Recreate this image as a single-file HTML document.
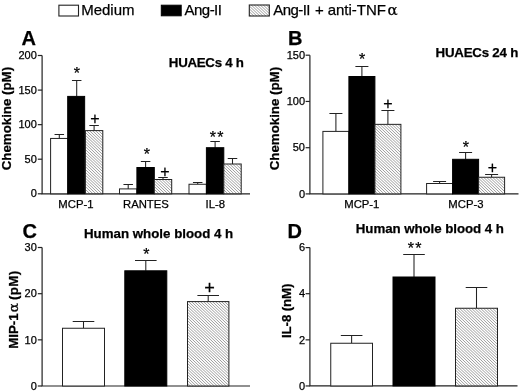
<!DOCTYPE html>
<html><head><meta charset="utf-8"><title>Figure</title>
<style>html,body{margin:0;padding:0;background:#fff}svg{display:block}text{font-family:'Liberation Sans', Arial, sans-serif;fill:#000;stroke:#000;stroke-width:0.25px}</style>
</head><body>
<svg width="520" height="392" viewBox="0 0 520 392">
<rect width="520" height="392" fill="#fff"/>
<rect x="58.9" y="5.2" width="19.6" height="10.8" fill="#fff" stroke="#222" stroke-width="1.1"/>
<rect x="161.3" y="5.2" width="19.9" height="10.6" fill="#000" stroke="#000"/>
<clipPath id="c1"><rect x="249.30" y="5.00" width="20.00" height="11.00"/></clipPath>
<rect x="249.30" y="5.00" width="20.00" height="11.00" fill="#fff"/>
<path clip-path="url(#c1)" d="M248.30 -17.77L270.30 3.14M248.30 -14.92L270.30 5.99M248.30 -12.07L270.30 8.84M248.30 -9.22L270.30 11.69M248.30 -6.37L270.30 14.54M248.30 -3.52L270.30 17.39M248.30 -0.67L270.30 20.24M248.30 2.18L270.30 23.09M248.30 5.03L270.30 25.94M248.30 7.88L270.30 28.79M248.30 10.73L270.30 31.64M248.30 13.58L270.30 34.49" stroke="#888" stroke-width="0.82" fill="none"/>
<rect x="249.30" y="5.00" width="20.00" height="11.00" fill="none" stroke="#222" stroke-width="1.1"/>
<text x="81.20" y="15.30" font-size="15" text-anchor="start">Medium</text>
<text x="184.6" y="15.3" font-size="15" textLength="37.3" lengthAdjust="spacing">Ang-II</text>
<text y="15.3" font-size="15" style="white-space:pre"><tspan x="273.2" textLength="37.3" lengthAdjust="spacing">Ang-II</tspan><tspan x="310.95"> + </tspan><tspan x="327.7">anti-TNF</tspan><tspan x="387.6" style="font-family:'DejaVu Serif',serif">α</tspan></text>
<text x="21.40" y="44.90" font-size="20" font-weight="bold" text-anchor="start">A</text>
<text x="287.90" y="44.90" font-size="20" font-weight="bold" text-anchor="start">B</text>
<text x="22.40" y="238.00" font-size="20" font-weight="bold" text-anchor="start">C</text>
<text x="287.40" y="238.00" font-size="20" font-weight="bold" text-anchor="start">D</text>
<text x="168.80" y="67.30" font-size="13.3" font-weight="bold" textLength="75.1" lengthAdjust="spacing" text-anchor="start">HUAECs 4 h</text>
<text x="435.60" y="56.60" font-size="13.3" font-weight="bold" textLength="82.7" lengthAdjust="spacing" text-anchor="start">HUAECs 24 h</text>
<text x="84.00" y="237.90" font-size="13.3" font-weight="bold" text-anchor="start">Human whole blood 4 h</text>
<text x="355.80" y="233.40" font-size="13.3" font-weight="bold" textLength="148.0" lengthAdjust="spacing" text-anchor="start">Human whole blood 4 h</text>
<text x="10.70" y="118.60" font-size="13.3" font-weight="bold" text-anchor="middle" transform="rotate(-90 10.70 118.60)">Chemokine (pM)</text>
<text x="279.40" y="118.60" font-size="13.3" font-weight="bold" text-anchor="middle" transform="rotate(-90 279.40 118.60)">Chemokine (pM)</text>
<text y="348.8" font-size="13.3" font-weight="bold" transform="rotate(-90 17.6 348.8)" style="white-space:pre"><tspan x="17.6">MIP-1</tspan><tspan x="54.1" font-size="13.5" font-weight="normal" stroke-width="0.35" style="font-family:'DejaVu Serif',serif">α</tspan><tspan x="62.5" textLength="33.0" lengthAdjust="spacing"> (pM)</tspan></text>
<text x="291.40" y="310.80" font-size="13.3" font-weight="bold" textLength="54.3" lengthAdjust="spacing" text-anchor="middle" transform="rotate(-90 291.40 310.80)">IL-8 (nM)</text>
<path d="M42.10 55.50V193.80H250.00" stroke="#222" stroke-width="1.2" fill="none"/>
<path d="M37.80 193.80H42.10" stroke="#222" stroke-width="1.2"/>
<text x="36.80" y="197.45" font-size="11" text-anchor="end">0</text>
<path d="M37.80 159.20H42.10" stroke="#222" stroke-width="1.2"/>
<text x="36.80" y="162.85" font-size="11" text-anchor="end">50</text>
<path d="M37.80 124.65H42.10" stroke="#222" stroke-width="1.2"/>
<text x="36.80" y="128.30" font-size="11" text-anchor="end">100</text>
<path d="M37.80 90.10H42.10" stroke="#222" stroke-width="1.2"/>
<text x="36.80" y="93.75" font-size="11" text-anchor="end">150</text>
<path d="M37.80 55.50H42.10" stroke="#222" stroke-width="1.2"/>
<text x="36.80" y="59.15" font-size="11" text-anchor="end">200</text>
<path d="M59.30 138.45V134.50M54.55 134.50H64.05" stroke="#222" stroke-width="1.05" fill="none"/>
<rect x="50.60" y="138.45" width="17.40" height="55.35" fill="#fff" stroke="#222" stroke-width="1.0"/>
<path d="M76.70 96.40V80.50M71.95 80.50H81.45" stroke="#222" stroke-width="1.05" fill="none"/>
<rect x="67.70" y="96.40" width="16.95" height="97.40" fill="#000" stroke="#000" stroke-width="1.0"/>
<path d="M94.10 130.60V125.50M89.35 125.50H98.85" stroke="#222" stroke-width="1.05" fill="none"/>
<clipPath id="c2"><rect x="85.40" y="130.60" width="17.40" height="63.20"/></clipPath>
<rect x="85.40" y="130.60" width="17.40" height="63.20" fill="#fff"/>
<path clip-path="url(#c2)" d="M84.40 111.53L103.80 129.96M84.40 114.38L103.80 132.81M84.40 117.23L103.80 135.66M84.40 120.08L103.80 138.51M84.40 122.93L103.80 141.36M84.40 125.78L103.80 144.21M84.40 128.63L103.80 147.06M84.40 131.48L103.80 149.91M84.40 134.33L103.80 152.76M84.40 137.18L103.80 155.61M84.40 140.03L103.80 158.46M84.40 142.88L103.80 161.31M84.40 145.73L103.80 164.16M84.40 148.58L103.80 167.01M84.40 151.43L103.80 169.86M84.40 154.28L103.80 172.71M84.40 157.13L103.80 175.56M84.40 159.98L103.80 178.41M84.40 162.83L103.80 181.26M84.40 165.68L103.80 184.11M84.40 168.53L103.80 186.96M84.40 171.38L103.80 189.81M84.40 174.23L103.80 192.66M84.40 177.08L103.80 195.51M84.40 179.93L103.80 198.36M84.40 182.78L103.80 201.21M84.40 185.63L103.80 204.06M84.40 188.48L103.80 206.91M84.40 191.33L103.80 209.76" stroke="#888" stroke-width="0.82" fill="none"/>
<rect x="85.40" y="130.60" width="17.40" height="63.20" fill="none" stroke="#222" stroke-width="1.0"/>
<path d="M128.20 188.90V184.50M123.45 184.50H132.95" stroke="#222" stroke-width="1.05" fill="none"/>
<rect x="119.50" y="188.90" width="17.40" height="4.90" fill="#fff" stroke="#222" stroke-width="1.0"/>
<path d="M145.60 167.50V161.50M140.85 161.50H150.35" stroke="#222" stroke-width="1.05" fill="none"/>
<rect x="136.90" y="167.50" width="17.40" height="26.30" fill="#000" stroke="#000" stroke-width="1.0"/>
<path d="M163.00 179.50V177.50M158.25 177.50H167.75" stroke="#222" stroke-width="1.05" fill="none"/>
<clipPath id="c3"><rect x="154.30" y="179.50" width="17.40" height="14.30"/></clipPath>
<rect x="154.30" y="179.50" width="17.40" height="14.30" fill="#fff"/>
<path clip-path="url(#c3)" d="M153.30 159.88L172.70 178.31M153.30 162.73L172.70 181.16M153.30 165.58L172.70 184.01M153.30 168.44L172.70 186.87M153.30 171.28L172.70 189.72M153.30 174.13L172.70 192.56M153.30 176.98L172.70 195.41M153.30 179.83L172.70 198.26M153.30 182.69L172.70 201.12M153.30 185.53L172.70 203.97M153.30 188.38L172.70 206.81M153.30 191.23L172.70 209.66" stroke="#888" stroke-width="0.82" fill="none"/>
<rect x="154.30" y="179.50" width="17.40" height="14.30" fill="none" stroke="#222" stroke-width="1.0"/>
<path d="M197.70 184.25V182.50M192.95 182.50H202.45" stroke="#222" stroke-width="1.05" fill="none"/>
<rect x="189.00" y="184.25" width="17.40" height="9.55" fill="#fff" stroke="#222" stroke-width="1.0"/>
<path d="M215.10 147.70V141.50M210.35 141.50H219.85" stroke="#222" stroke-width="1.05" fill="none"/>
<rect x="206.40" y="147.70" width="17.40" height="46.10" fill="#000" stroke="#000" stroke-width="1.0"/>
<path d="M232.50 164.00V158.50M227.75 158.50H237.25" stroke="#222" stroke-width="1.05" fill="none"/>
<clipPath id="c4"><rect x="223.80" y="164.00" width="17.40" height="29.80"/></clipPath>
<rect x="223.80" y="164.00" width="17.40" height="29.80" fill="#fff"/>
<path clip-path="url(#c4)" d="M222.80 143.26L242.20 161.69M222.80 146.11L242.20 164.54M222.80 148.96L242.20 167.39M222.80 151.81L242.20 170.24M222.80 154.66L242.20 173.09M222.80 157.51L242.20 175.94M222.80 160.36L242.20 178.79M222.80 163.21L242.20 181.64M222.80 166.06L242.20 184.49M222.80 168.91L242.20 187.34M222.80 171.76L242.20 190.19M222.80 174.61L242.20 193.04M222.80 177.46L242.20 195.89M222.80 180.31L242.20 198.74M222.80 183.16L242.20 201.59M222.80 186.01L242.20 204.44M222.80 188.86L242.20 207.29M222.80 191.71L242.20 210.14" stroke="#888" stroke-width="0.82" fill="none"/>
<rect x="223.80" y="164.00" width="17.40" height="29.80" fill="none" stroke="#222" stroke-width="1.0"/>
<text x="76.80" y="78.94" font-size="16" text-anchor="middle" stroke="#000" stroke-width="0.3">*</text>
<text x="94.90" y="124.42" font-size="16.0" text-anchor="middle" stroke-width="0.15">+</text>
<text x="146.75" y="160.29" font-size="16" text-anchor="middle" stroke="#000" stroke-width="0.3">*</text>
<text x="165.00" y="177.37" font-size="16.0" text-anchor="middle" stroke-width="0.15">+</text>
<text x="217.14" y="143.34" font-size="16" text-anchor="middle" letter-spacing="1.28" stroke="#000" stroke-width="0.3">**</text>
<text x="75.90" y="208.00" font-size="11.3" text-anchor="middle">MCP-1</text>
<text x="145.90" y="208.00" font-size="11.3" text-anchor="middle">RANTES</text>
<text x="215.30" y="208.00" font-size="11.3" text-anchor="middle">IL-8</text>
<path d="M309.90 55.20V193.90H518.50" stroke="#222" stroke-width="1.2" fill="none"/>
<path d="M305.60 193.90H309.90" stroke="#222" stroke-width="1.2"/>
<text x="305.00" y="197.55" font-size="11" text-anchor="end">0</text>
<path d="M305.60 147.70H309.90" stroke="#222" stroke-width="1.2"/>
<text x="305.00" y="151.35" font-size="11" text-anchor="end">50</text>
<path d="M305.60 101.45H309.90" stroke="#222" stroke-width="1.2"/>
<text x="305.00" y="105.10" font-size="11" text-anchor="end">100</text>
<path d="M305.60 55.20H309.90" stroke="#222" stroke-width="1.2"/>
<text x="305.00" y="58.85" font-size="11" text-anchor="end">150</text>
<path d="M335.90 131.40V113.50M329.40 113.50H342.40" stroke="#222" stroke-width="1.05" fill="none"/>
<rect x="322.90" y="131.40" width="26.00" height="62.50" fill="#fff" stroke="#222" stroke-width="1.0"/>
<path d="M361.90 76.50V66.50M355.40 66.50H368.40" stroke="#222" stroke-width="1.05" fill="none"/>
<rect x="348.90" y="76.50" width="26.00" height="117.40" fill="#000" stroke="#000" stroke-width="1.0"/>
<path d="M387.90 124.35V110.50M381.40 110.50H394.40" stroke="#222" stroke-width="1.05" fill="none"/>
<clipPath id="c5"><rect x="374.90" y="124.35" width="26.00" height="69.55"/></clipPath>
<rect x="374.90" y="124.35" width="26.00" height="69.55" fill="#fff"/>
<path clip-path="url(#c5)" d="M373.90 95.85L401.90 122.45M373.90 98.70L401.90 125.30M373.90 101.55L401.90 128.15M373.90 104.40L401.90 131.00M373.90 107.25L401.90 133.85M373.90 110.10L401.90 136.70M373.90 112.95L401.90 139.55M373.90 115.80L401.90 142.40M373.90 118.65L401.90 145.25M373.90 121.50L401.90 148.10M373.90 124.35L401.90 150.95M373.90 127.20L401.90 153.80M373.90 130.05L401.90 156.65M373.90 132.90L401.90 159.50M373.90 135.75L401.90 162.35M373.90 138.60L401.90 165.20M373.90 141.45L401.90 168.05M373.90 144.30L401.90 170.90M373.90 147.15L401.90 173.75M373.90 150.00L401.90 176.60M373.90 152.85L401.90 179.45M373.90 155.70L401.90 182.30M373.90 158.55L401.90 185.15M373.90 161.40L401.90 188.00M373.90 164.25L401.90 190.85M373.90 167.10L401.90 193.70M373.90 169.95L401.90 196.55M373.90 172.80L401.90 199.40M373.90 175.65L401.90 202.25M373.90 178.50L401.90 205.10M373.90 181.35L401.90 207.95M373.90 184.20L401.90 210.80M373.90 187.05L401.90 213.65M373.90 189.90L401.90 216.50M373.90 192.75L401.90 219.35" stroke="#888" stroke-width="0.82" fill="none"/>
<rect x="374.90" y="124.35" width="26.00" height="69.55" fill="none" stroke="#222" stroke-width="1.0"/>
<path d="M439.60 183.50V181.50M433.10 181.50H446.10" stroke="#222" stroke-width="1.05" fill="none"/>
<rect x="426.60" y="183.50" width="26.00" height="10.40" fill="#fff" stroke="#222" stroke-width="1.0"/>
<path d="M465.60 159.30V152.50M459.10 152.50H472.10" stroke="#222" stroke-width="1.05" fill="none"/>
<rect x="452.60" y="159.30" width="26.00" height="34.60" fill="#000" stroke="#000" stroke-width="1.0"/>
<path d="M491.60 177.25V174.50M485.10 174.50H498.10" stroke="#222" stroke-width="1.05" fill="none"/>
<clipPath id="c6"><rect x="478.60" y="177.25" width="26.00" height="16.65"/></clipPath>
<rect x="478.60" y="177.25" width="26.00" height="16.65" fill="#fff"/>
<path clip-path="url(#c6)" d="M477.60 148.77L505.60 175.37M477.60 151.62L505.60 178.22M477.60 154.47L505.60 181.07M477.60 157.32L505.60 183.92M477.60 160.17L505.60 186.77M477.60 163.02L505.60 189.62M477.60 165.87L505.60 192.47M477.60 168.72L505.60 195.32M477.60 171.57L505.60 198.17M477.60 174.42L505.60 201.02M477.60 177.27L505.60 203.87M477.60 180.12L505.60 206.72M477.60 182.97L505.60 209.57M477.60 185.82L505.60 212.42M477.60 188.67L505.60 215.27M477.60 191.52L505.60 218.12" stroke="#888" stroke-width="0.82" fill="none"/>
<rect x="478.60" y="177.25" width="26.00" height="16.65" fill="none" stroke="#222" stroke-width="1.0"/>
<text x="362.00" y="65.04" font-size="16" text-anchor="middle" stroke="#000" stroke-width="0.3">*</text>
<text x="388.00" y="109.22" font-size="16.0" text-anchor="middle" stroke-width="0.15">+</text>
<text x="465.75" y="152.54" font-size="16" text-anchor="middle" stroke="#000" stroke-width="0.3">*</text>
<text x="492.50" y="172.62" font-size="16.0" text-anchor="middle" stroke-width="0.15">+</text>
<text x="361.80" y="208.00" font-size="11.3" text-anchor="middle">MCP-1</text>
<text x="465.90" y="208.00" font-size="11.3" text-anchor="middle">MCP-3</text>
<path d="M42.10 247.50V386.00H250.00" stroke="#222" stroke-width="1.2" fill="none"/>
<path d="M37.80 386.00H42.10" stroke="#222" stroke-width="1.2"/>
<text x="36.80" y="389.65" font-size="11" text-anchor="end">0</text>
<path d="M37.80 339.85H42.10" stroke="#222" stroke-width="1.2"/>
<text x="36.80" y="343.50" font-size="11" text-anchor="end">10</text>
<path d="M37.80 293.70H42.10" stroke="#222" stroke-width="1.2"/>
<text x="36.80" y="297.35" font-size="11" text-anchor="end">20</text>
<path d="M37.80 247.50H42.10" stroke="#222" stroke-width="1.2"/>
<text x="36.80" y="251.15" font-size="11" text-anchor="end">30</text>
<path d="M83.50 328.25V321.50M72.70 321.50H94.30" stroke="#222" stroke-width="1.05" fill="none"/>
<rect x="62.50" y="328.25" width="42.00" height="57.75" fill="#fff" stroke="#222" stroke-width="1.0"/>
<path d="M145.80 270.80V260.50M135.00 260.50H156.60" stroke="#222" stroke-width="1.05" fill="none"/>
<rect x="124.80" y="270.80" width="42.00" height="115.20" fill="#000" stroke="#000" stroke-width="1.0"/>
<path d="M208.20 301.60V295.50M197.40 295.50H219.00" stroke="#222" stroke-width="1.05" fill="none"/>
<clipPath id="c7"><rect x="187.50" y="301.60" width="41.40" height="84.40"/></clipPath>
<rect x="187.50" y="301.60" width="41.40" height="84.40" fill="#fff"/>
<path clip-path="url(#c7)" d="M186.50 259.82L229.90 301.06M186.50 262.67L229.90 303.90M186.50 265.52L229.90 306.75M186.50 268.38L229.90 309.61M186.50 271.22L229.90 312.45M186.50 274.07L229.90 315.31M186.50 276.92L229.90 318.15M186.50 279.77L229.90 321.00M186.50 282.62L229.90 323.86M186.50 285.47L229.90 326.70M186.50 288.32L229.90 329.56M186.50 291.17L229.90 332.40M186.50 294.02L229.90 335.25M186.50 296.88L229.90 338.11M186.50 299.72L229.90 340.95M186.50 302.57L229.90 343.81M186.50 305.42L229.90 346.65M186.50 308.27L229.90 349.50M186.50 311.12L229.90 352.36M186.50 313.98L229.90 355.21M186.50 316.82L229.90 358.06M186.50 319.67L229.90 360.90M186.50 322.52L229.90 363.75M186.50 325.38L229.90 366.61M186.50 328.23L229.90 369.46M186.50 331.07L229.90 372.31M186.50 333.92L229.90 375.15M186.50 336.77L229.90 378.00M186.50 339.62L229.90 380.86M186.50 342.48L229.90 383.71M186.50 345.32L229.90 386.56M186.50 348.17L229.90 389.40M186.50 351.02L229.90 392.25M186.50 353.88L229.90 395.11M186.50 356.73L229.90 397.96M186.50 359.57L229.90 400.81M186.50 362.42L229.90 403.65M186.50 365.27L229.90 406.50M186.50 368.12L229.90 409.36M186.50 370.98L229.90 412.21M186.50 373.82L229.90 415.06M186.50 376.67L229.90 417.90M186.50 379.52L229.90 420.75M186.50 382.38L229.90 423.61M186.50 385.23L229.90 426.46" stroke="#888" stroke-width="0.82" fill="none"/>
<rect x="187.50" y="301.60" width="41.40" height="84.40" fill="none" stroke="#222" stroke-width="1.0"/>
<text x="146.25" y="259.54" font-size="16" text-anchor="middle" stroke="#000" stroke-width="0.3">*</text>
<text x="209.50" y="293.60" font-size="18.1" text-anchor="middle" stroke-width="0.15">+</text>
<path d="M309.90 247.60V385.95H517.50" stroke="#222" stroke-width="1.2" fill="none"/>
<path d="M305.60 385.95H309.90" stroke="#222" stroke-width="1.2"/>
<text x="305.00" y="389.60" font-size="11" text-anchor="end">0</text>
<path d="M305.60 339.85H309.90" stroke="#222" stroke-width="1.2"/>
<text x="305.00" y="343.50" font-size="11" text-anchor="end">2</text>
<path d="M305.60 293.70H309.90" stroke="#222" stroke-width="1.2"/>
<text x="305.00" y="297.35" font-size="11" text-anchor="end">4</text>
<path d="M305.60 247.60H309.90" stroke="#222" stroke-width="1.2"/>
<text x="305.00" y="251.25" font-size="11" text-anchor="end">6</text>
<path d="M351.62 343.25V335.50M340.82 335.50H362.43" stroke="#222" stroke-width="1.05" fill="none"/>
<rect x="330.75" y="343.25" width="41.75" height="42.70" fill="#fff" stroke="#222" stroke-width="1.0"/>
<path d="M414.00 277.00V254.50M403.20 254.50H424.80" stroke="#222" stroke-width="1.05" fill="none"/>
<rect x="393.00" y="277.00" width="42.00" height="108.95" fill="#000" stroke="#000" stroke-width="1.0"/>
<path d="M476.50 308.25V287.50M465.70 287.50H487.30" stroke="#222" stroke-width="1.05" fill="none"/>
<clipPath id="c8"><rect x="455.50" y="308.25" width="42.00" height="77.70"/></clipPath>
<rect x="455.50" y="308.25" width="42.00" height="77.70" fill="#fff"/>
<path clip-path="url(#c8)" d="M454.50 263.62L498.50 305.42M454.50 266.47L498.50 308.27M454.50 269.32L498.50 311.12M454.50 272.17L498.50 313.98M454.50 275.02L498.50 316.82M454.50 277.88L498.50 319.67M454.50 280.72L498.50 322.52M454.50 283.57L498.50 325.38M454.50 286.42L498.50 328.23M454.50 289.27L498.50 331.07M454.50 292.12L498.50 333.92M454.50 294.97L498.50 336.77M454.50 297.82L498.50 339.62M454.50 300.67L498.50 342.48M454.50 303.52L498.50 345.32M454.50 306.38L498.50 348.17M454.50 309.22L498.50 351.02M454.50 312.07L498.50 353.88M454.50 314.92L498.50 356.72M454.50 317.77L498.50 359.57M454.50 320.62L498.50 362.42M454.50 323.47L498.50 365.27M454.50 326.32L498.50 368.12M454.50 329.17L498.50 370.97M454.50 332.02L498.50 373.82M454.50 334.88L498.50 376.67M454.50 337.72L498.50 379.52M454.50 340.57L498.50 382.38M454.50 343.42L498.50 385.22M454.50 346.27L498.50 388.07M454.50 349.12L498.50 390.92M454.50 351.97L498.50 393.77M454.50 354.82L498.50 396.62M454.50 357.67L498.50 399.47M454.50 360.52L498.50 402.32M454.50 363.38L498.50 405.17M454.50 366.22L498.50 408.02M454.50 369.07L498.50 410.88M454.50 371.92L498.50 413.72M454.50 374.77L498.50 416.57M454.50 377.62L498.50 419.43M454.50 380.47L498.50 422.27M454.50 383.32L498.50 425.12" stroke="#888" stroke-width="0.82" fill="none"/>
<rect x="455.50" y="308.25" width="42.00" height="77.70" fill="none" stroke="#222" stroke-width="1.0"/>
<text x="415.14" y="254.04" font-size="16" text-anchor="middle" letter-spacing="1.28" stroke="#000" stroke-width="0.3">**</text>
</svg></body></html>
